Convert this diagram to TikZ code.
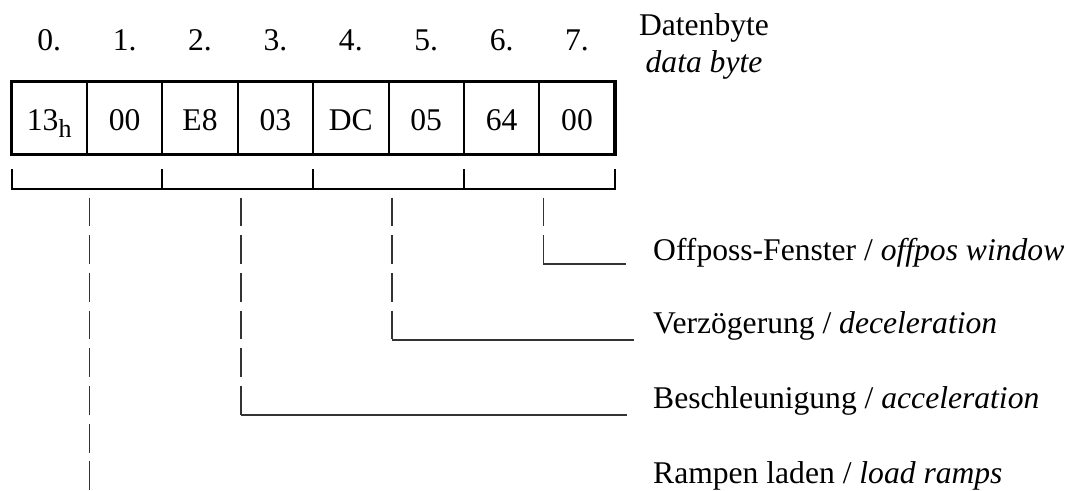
\documentclass[tikz,border=0pt]{standalone}
\usepackage{fontspec}
\setmainfont{Liberation Serif}
\usepackage{tikz}

\begin{document}
\begin{tikzpicture}[x=1pt,y=-1pt,font=\fontsize{31.6}{38}\selectfont,
  every node/.style={inner sep=0pt},
  legline/.style={line width=1.3pt,black!80,dash pattern=on 28.8pt off 8.9pt},
  legfoot/.style={line width=1.3pt,black!80}]
  \useasboundingbox (0,0) rectangle (1076,490);

  % byte frame
  \draw[line width=2pt] (86.9,81.5) --(86.9,154.5);
  \draw[line width=2pt] (162.3,81.5) --(162.3,154.5);
  \draw[line width=2pt] (237.7,81.5) --(237.7,154.5);
  \draw[line width=2pt] (313.1,81.5) --(313.1,154.5);
  \draw[line width=2pt] (388.5,81.5) --(388.5,154.5);
  \draw[line width=2pt] (463.9,81.5) --(463.9,154.5);
  \draw[line width=2pt] (539.3,81.5) --(539.3,154.5);
  \draw[line width=3.5pt] (11.5,81.5) rectangle (615,154.5);

  \path (49.2,50) node[anchor=base] (n0) {0.};
  \path (124.6,50) node[anchor=base] (n1) {1.};
  \path (200,50) node[anchor=base] (n2) {2.};
  \path (275.4,50) node[anchor=base] (n3) {3.};
  \path (350.8,50) node[anchor=base] (n4) {4.};
  \path (426.2,50) node[anchor=base] (n5) {5.};
  \path (501.6,50) node[anchor=base] (n6) {6.};
  \path (577,50) node[anchor=base] (n7) {7.};
  \path (704,35) node[anchor=base] (dbyte) {Datenbyte};
  \path (704,72) node[anchor=base] (dbyteen) {\textit{data byte}};

  \path (49.2,130) node[anchor=base] (b0) {13\raisebox{-7pt}{\fontsize{26}{30}\selectfont h}};
  \path (124.6,130) node[anchor=base] (b1) {00};
  \path (200,130) node[anchor=base] (b2) {E8};
  \path (275.4,130) node[anchor=base] (b3) {03};
  \path (350.8,130) node[anchor=base] (b4) {DC};
  \path (426.2,130) node[anchor=base] (b5) {05};
  \path (501.6,130) node[anchor=base] (b6) {64};
  \path (577,130) node[anchor=base] (b7) {00};

  % word brackets
  \draw[line width=2pt] (11.5,169) --(11.5,188.5) --(615,188.5) --(615,169);
  \draw[line width=2pt] (162.3,169) --(162.3,188.5);
  \draw[line width=2pt] (313.1,169) --(313.1,188.5);
  \draw[line width=2pt] (463.9,169) --(463.9,188.5);

  % meanings
  \path (653,260) node[anchor=base west] (loff) {Offposs-Fenster / \textit{offpos window}};
  \path (653,333) node[anchor=base west] (ldec) {Verzögerung / \textit{deceleration}};
  \path (653,408) node[anchor=base west] (lacc) {Beschleunigung / \textit{acceleration}};
  \path (653,483) node[anchor=base west] (lramp) {Rampen laden / \textit{load ramps}};

  \coordinate (t1) at (89.3,197.5);
  \coordinate (t3) at (241,197.5);
  \coordinate (t5) at (392,197.5);
  \coordinate (t7) at (543.3,197.5);
  \path (t7 |- loff.base) ++(0,4) coordinate (k7);
  \path (t5 |- ldec.base) ++(0,7) coordinate (k5);
  \path (t3 |- lacc.base) ++(0,7) coordinate (k3);
  \path (t1 |- lramp.base) ++(0,7.5) coordinate (k1);

  \draw[legline] (t7) -- (k7);
  \draw[legfoot,shorten >=27pt] (k7) -- (k7 -| loff.west);
  \draw[legline] (t5) -- (k5);
  \draw[legfoot,shorten >=19pt] (k5) -- (k5 -| ldec.west);
  \draw[legline] (t3) -- (k3);
  \draw[legfoot,shorten >=26pt] (k3) -- (k3 -| lacc.west);
  \draw[legline] (t1) -- (k1);
\end{tikzpicture}
\end{document}
